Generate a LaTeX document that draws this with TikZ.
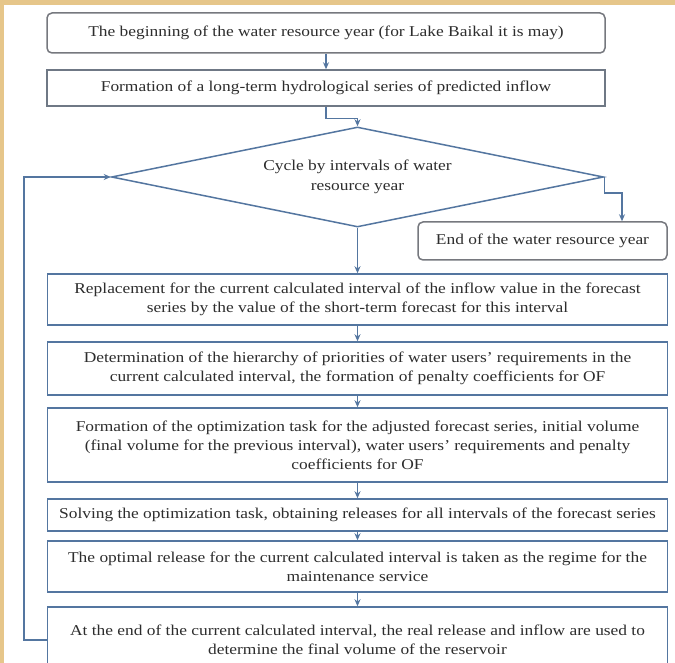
\documentclass[tikz,border=0pt]{standalone}
\usepackage{fontspec}
\setmainfont{Liberation Serif}[FakeStretch=1.16]
\usetikzlibrary{shapes.geometric,arrows.meta}
\definecolor{tanbg}{RGB}{230,198,138}
\definecolor{lineblue}{RGB}{84,118,160}
\definecolor{boxgray}{RGB}{118,120,126}
\definecolor{txt}{RGB}{45,45,45}
\begin{document}
\begin{tikzpicture}[x=1pt,y=-1pt,
  lbl/.style={align=center,inner sep=0pt,text=txt,font=\fontsize{15}{18.8}\selectfont},
  sbox/.style={lbl,draw=lineblue,line width=1.5pt,fill=white,minimum width=620pt},
  rbox/.style={lbl,draw=boxgray,line width=1.5pt,fill=white,rounded corners=5pt},
  arr/.style={draw=lineblue,line width=1.5pt,-{Stealth[length=7pt,width=6pt]}}]
\useasboundingbox (0,0) rectangle (675,663);
\fill[white] (0,0) rectangle (675,663);
\fill[tanbg] (0,0) rectangle (675,5);
\fill[tanbg] (0,0) rectangle (4,663);

\node[rbox,minimum width=558pt,minimum height=40pt] (b1) at (326,33)
  {The beginning of the water resource year (for Lake Baikal it is may)};
\node[lbl,draw=boxgray!80!lineblue,line width=1.5pt,fill=white,minimum width=558pt,minimum height=36pt] (b2) at (326,88)
  {Formation of a long-term hydrological series of predicted inflow};
\node[lbl,diamond,draw=lineblue,line width=1.5pt,aspect=4.92,minimum width=492pt,minimum height=100pt] (d) at (357.5,177)
  {\raisebox{-4pt}{\begin{tabular}{@{}c@{}}Cycle by intervals of water\\[1.5pt]resource year\end{tabular}}};
\node[rbox,minimum width=249pt,minimum height=38pt] (e) at (542.5,241)
  {End of the water resource year};
\node[sbox,minimum height=51pt] (b3) at (357.5,299.5)
  {Replacement for the current calculated interval of the inflow value in the forecast\\series by the value of the short-term forecast for this interval};
\node[sbox,minimum height=53pt] (b4) at (357.5,368.5)
  {Determination of the hierarchy of priorities of water users' requirements in the\\current calculated interval, the formation of penalty coefficients for OF};
\node[sbox,minimum height=74pt] (b5) at (357.5,445)
  {Formation of the optimization task for the adjusted forecast series, initial volume\\(final volume for the previous interval), water users' requirements and penalty\\coefficients for OF};
\node[sbox,minimum height=32pt] (b6) at (357.5,515)
  {Solving the optimization task, obtaining releases for all intervals of the forecast series};
\node[sbox,minimum height=51pt] (b7) at (357.5,566.5)
  {The optimal release for the current calculated interval is taken as the regime for the\\maintenance service};
\node[sbox,minimum height=66pt] (b8) at (357.5,640)
  {At the end of the current calculated interval, the real release and inflow are used to\\determine the final volume of the reservoir};

\draw[arr] (b1.south) -- (b2.north);
\draw[arr] (b2.south) -- ++(0,12) -| (d.north);
\draw[arr] (d.east) -- ++(0,16) -| ([xshift=79.5pt]e.north);
\draw[arr] (d.south) -- (b3.north);
\draw[arr] (b3.south) -- (b4.north);
\draw[arr] (b4.south) -- (b5.north);
\draw[arr] (b5.south) -- (b6.north);
\draw[arr] (b6.south) -- (b7.north);
\draw[arr] (b7.south) -- (b8.north);
\draw[arr] (b8.west) -- ++(-23,0) |- (d.west);
\end{tikzpicture}
\end{document}
